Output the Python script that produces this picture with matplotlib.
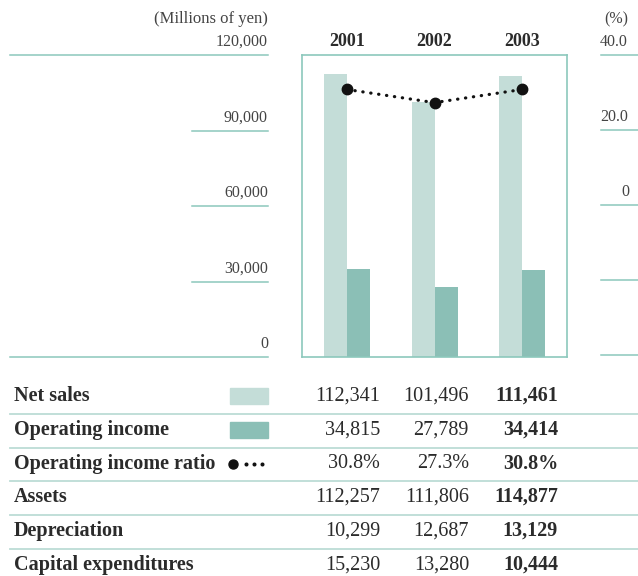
import matplotlib
matplotlib.use("Agg")
import matplotlib.pyplot as plt
from matplotlib.lines import Line2D
from matplotlib.patches import Rectangle
from matplotlib.transforms import blended_transform_factory

# data
years = ["2001", "2002", "2003"]
net_sales = [112341, 101496, 111461]
op_income = [34815, 27789, 34414]
op_ratio = [30.8, 27.3, 30.8]
assets = [112257, 111806, 114877]
depreciation = [10299, 12687, 13129]
capex = [15230, 13280, 10444]

left_ticks = [0, 30000, 60000, 90000, 120000]
right_ticks = [0, 20.0, 40.0]

LIGHT = "#c4ddd8"
DARK = "#8bbfb6"
LINE = "#8cc8bc"
ROWLINE = "#bcdcd6"
TXT = "#2b2b2b"
GRAY = "#444444"

W, H = 638, 576
plt.rcParams["font.family"] = ["Liberation Serif", "DejaVu Serif"]

fig = plt.figure(figsize=(W / 100, H / 100), dpi=100)

def fx(px):
    return px / W

def fy(py):
    return 1 - py / H

# main box: x 302..567, y 55..357 (pixels)
ax = fig.add_axes([fx(302), fy(357), fx(265), (357 - 55) / H])
ax.set_xlim(-45 / 87.5, 2 + 45 / 87.5)
ax.set_ylim(0, 120000)
ax.set_xticks([])
ax.set_yticks([])
for s in ax.spines.values():
    s.set_color(LINE)
    s.set_linewidth(1.2)

bw = 23 / 87.5
xs = list(range(len(years)))
ax.bar([x - bw / 2 for x in xs], net_sales, width=bw, color=LIGHT, zorder=2)
ax.bar([x + bw / 2 for x in xs], op_income, width=bw, color=DARK, zorder=2)

ax2 = ax.twinx()
ax2.set_ylim(40 - 302 / 150 * 40, 40)
ax2.set_yticks([])
for s in ax2.spines.values():
    s.set_visible(False)
ax2.plot(xs, op_ratio, color="#111111", linestyle=(0, (0.1, 2.4)), lw=2.3,
         dash_capstyle="round", zorder=3)
ax2.plot(xs, op_ratio, "o", color="#111111", ms=7.5, zorder=4)

# year labels
yt = blended_transform_factory(ax.transData, ax.transAxes)
for x, y in zip(xs, years):
    ax.text(x, 1 + 5 / 302, y, transform=yt, ha="center", va="bottom",
            fontsize=13, fontweight="bold", color=TXT)

# left scale
tl = blended_transform_factory(fig.transFigure, ax.transData)
for v in left_ticks:
    x0 = fx(10) if v in (0, 120000) else fx(192)
    fig.add_artist(Line2D([x0, fx(268)], [v, v], transform=tl, color=LINE, lw=1.1))
    fig.text(fx(268), v + 2100, f"{v:,}", transform=tl, ha="right", va="bottom",
             fontsize=11.5, color=GRAY)
fig.text(fx(268), fy(23), "(Millions of yen)", ha="right", va="baseline",
         fontsize=12, color=GRAY)

# right scale
tr = blended_transform_factory(fig.transFigure, ax2.transData)
for v in [40.0, 20.0, 0.0, -20.0, -40.0]:
    fig.add_artist(Line2D([fx(601), 1], [v, v], transform=tr, color=LINE, lw=1.1))
for v in right_ticks:
    lab = "0" if v == 0 else f"{v:.1f}"
    ha = "left" if v != 0 else "center"
    xpos = fx(600) if v != 0 else fx(625)
    fig.text(xpos, v + 1.4, lab, transform=tr, ha=ha, va="bottom",
             fontsize=11.5, color=GRAY)
fig.text(fx(604), fy(23), "(%)", ha="left", va="baseline", fontsize=11.5, color=GRAY)

# table
row_labels = ["Net sales", "Operating income", "Operating income ratio",
              "Assets", "Depreciation", "Capital expenditures"]
rows = [
    [f"{v:,}" for v in net_sales],
    [f"{v:,}" for v in op_income],
    [f"{v:.1f}%" for v in op_ratio],
    [f"{v:,}" for v in assets],
    [f"{v:,}" for v in depreciation],
    [f"{v:,}" for v in capex],
]
row_y = [396, 430, 464, 497, 531, 565]
col_x = [380, 469, 558]
for i, (lab, vals) in enumerate(zip(row_labels, rows)):
    y = fy(row_y[i])
    fig.text(fx(14), y, lab, ha="left", va="center", fontsize=14.5,
             fontweight="bold", color=TXT)
    for j, v in enumerate(vals):
        fig.text(fx(col_x[j]), y, v, ha="right", va="center", fontsize=14.5,
                 fontweight="bold" if j == 2 else "normal", color=TXT)
    if i < len(rows) - 1:
        yl = fy((row_y[i] + row_y[i + 1]) / 2 + 0.5)
        fig.add_artist(Line2D([fx(10), 1], [yl, yl], color=ROWLINE, lw=1.3))

# legend swatches
fig.add_artist(Rectangle((fx(230), fy(404)), fx(38), 16 / H, color=LIGHT,
                         transform=fig.transFigure))
fig.add_artist(Rectangle((fx(230), fy(438)), fx(38), 16 / H, color=DARK,
                         transform=fig.transFigure))
fig.add_artist(Line2D([fx(233)], [fy(464)], marker="o", ms=6.5, color="#111111"))
fig.add_artist(Line2D([fx(246), fx(254), fx(262)], [fy(464)] * 3, marker="o", ms=1.9,
                      color="#111111", linestyle="none"))

fig.savefig("out.png", dpi=100)
